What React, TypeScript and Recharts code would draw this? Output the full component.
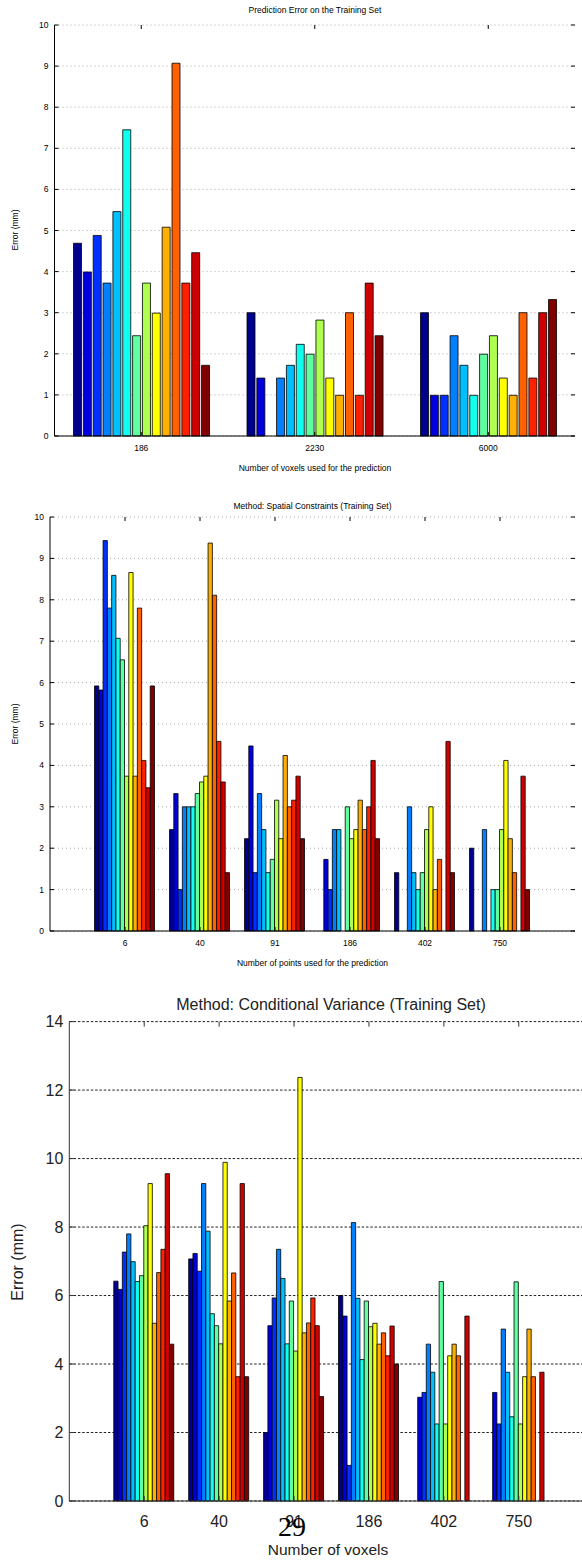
import React from "react";
import { BarChart, Bar, XAxis, YAxis, CartesianGrid } from "recharts";

// jet colormap sampled at 14 steps (one colour per bar in a group)
const jetColors = [
  "#00008F", "#0000DF", "#0030FF", "#0080FF", "#00BFFF", "#10FFEF", "#60FFA0",
  "#AFFF50", "#FFFF00", "#FFAF00", "#FF6000", "#FF2000", "#CF0000", "#800000",
];

// Prediction error on the training set (mm), one array per voxel count
const voxelCats = ["186", "2230", "6000"];
const err186 = [4.69, 3.99, 4.88, 3.72, 5.46, 7.45, 2.44, 3.72, 2.99, 5.08, 9.07, 3.72, 4.46, 1.72];
const err2230 = [3.0, 1.41, 0, 1.41, 1.72, 2.23, 1.99, 2.82, 1.41, 0.99, 3.0, 0.99, 3.72, 2.44];
const err6000 = [3.0, 0.99, 0.99, 2.44, 1.72, 0.99, 1.99, 2.44, 1.41, 0.99, 3.0, 1.41, 3.0, 3.32];

// Spatial constraints, one array per number of points
const pointCats = ["6", "40", "91", "186", "402", "750"];
const sc6 = [5.92, 5.82, 9.43, 7.8, 8.59, 7.07, 6.55, 3.74, 8.66, 3.74, 7.8, 4.12, 3.46, 5.92];
const sc40 = [2.45, 3.32, 1.0, 3.0, 3.0, 3.0, 3.32, 3.6, 3.74, 9.37, 8.11, 4.58, 3.6, 1.41];
const sc91 = [2.23, 4.47, 1.41, 3.32, 2.45, 1.41, 1.73, 3.16, 2.23, 4.24, 3.0, 3.16, 3.74, 2.23];
const sc186 = [0, 1.73, 1.0, 2.45, 2.45, 0, 3.0, 2.23, 2.45, 3.16, 2.45, 3.0, 4.12, 2.23];
const sc402 = [1.41, 0, 0, 3.0, 1.41, 1.0, 1.41, 2.45, 3.0, 1.0, 1.73, 0, 4.58, 1.41];
const sc750 = [2.0, 0, 0, 2.45, 0, 1.0, 1.0, 2.45, 4.12, 2.23, 1.41, 0, 3.74, 1.0];

// Conditional variance, one array per voxel count
const cvCats = ["6", "40", "91", "186", "402", "750"];
const cv6 = [6.42, 6.18, 7.27, 7.8, 6.99, 6.41, 6.58, 8.04, 9.27, 5.19, 6.67, 7.35, 9.56, 4.58];
const cv40 = [7.07, 7.23, 6.71, 9.27, 7.88, 5.47, 5.12, 4.59, 9.89, 5.84, 6.66, 3.63, 9.27, 3.63];
const cv91 = [2.0, 5.12, 5.93, 7.35, 6.5, 4.59, 5.84, 4.38, 12.37, 4.91, 5.2, 5.93, 5.12, 3.05];
const cv186 = [6.0, 5.4, 1.04, 8.13, 5.92, 4.13, 5.84, 5.09, 5.19, 4.58, 4.91, 4.24, 5.11, 4.0];
const cv402 = [0, 3.03, 3.17, 4.58, 3.76, 2.25, 6.41, 2.25, 4.24, 4.58, 4.24, 0, 5.4, 0];
const cv750 = [0, 3.17, 2.25, 5.02, 3.76, 2.46, 6.4, 2.25, 3.63, 5.02, 3.63, 0, 3.76, 0];

const ticks10 = [0, 1, 2, 3, 4, 5, 6, 7, 8, 9, 10];
const ticks14 = [0, 2, 4, 6, 8, 10, 12, 14];

const FONT = "'Liberation Sans', Arial, Helvetica, sans-serif";

function toRows(cats: string[], groups: number[][]) {
  return cats.map((cat, i) => {
    const row: Record<string, string | number> = { cat };
    groups[i].forEach((v, k) => {
      row["s" + k] = v;
    });
    return row;
  });
}

interface Box {
  left: number;
  top: number;
  right: number;
  bottom: number;
}

interface PanelProps {
  top: number;
  width: number;
  height: number;
  box: Box;
  data: Record<string, string | number>[];
  yMax: number;
  yTicks: number[];
  fontSize: number;
  textColor: string;
  xPad: number;
  barSize: number;
  barGap: number;
  axisColor: string;
  gridColor: string;
  gridDash: string;
  labelGap: number;
  xLabelDy: number;
  tickLen: number;
}

function Panel(p: PanelProps) {
  const { box } = p;
  const xAxisH = 30;
  const yAxisW = 40;
  const margin = {
    top: box.top,
    left: box.left - yAxisW,
    right: p.width - box.right,
    bottom: p.height - box.bottom - xAxisH,
  };

  const xTick = (t: any) => (
    <g>
      <line x1={t.x} x2={t.x} y1={box.bottom} y2={box.bottom - p.tickLen} stroke={p.axisColor} />
      <line x1={t.x} x2={t.x} y1={box.top} y2={box.top + p.tickLen} stroke={p.axisColor} />
      <text
        x={t.x}
        y={box.bottom + p.xLabelDy}
        textAnchor="middle"
        dominantBaseline="central"
        fontSize={p.fontSize}
        fontFamily={FONT}
        fill={p.textColor}
      >
        {t.payload.value}
      </text>
    </g>
  );

  const yTick = (t: any) => (
    <g>
      <line x1={box.left} x2={box.left + p.tickLen} y1={t.y} y2={t.y} stroke={p.axisColor} />
      <line x1={box.right - p.tickLen} x2={box.right} y1={t.y} y2={t.y} stroke={p.axisColor} />
      <text
        x={box.left - p.labelGap}
        y={t.y}
        textAnchor="end"
        dominantBaseline="central"
        fontSize={p.fontSize}
        fontFamily={FONT}
        fill={p.textColor}
      >
        {t.payload.value}
      </text>
    </g>
  );

  return (
    <div style={{ position: "absolute", left: 0, top: p.top }}>
      <BarChart
        width={p.width}
        height={p.height}
        data={p.data}
        margin={margin}
        barSize={p.barSize}
        barGap={p.barGap}
      >
        <CartesianGrid
          vertical={false}
          stroke={p.gridColor}
          strokeDasharray={p.gridDash}
        />
        {jetColors.map((c, k) => (
          <Bar
            key={k}
            dataKey={"s" + k}
            fill={c}
            stroke="#000"
            strokeWidth={0.8}
            isAnimationActive={false}
          />
        ))}
        <XAxis
          dataKey="cat"
          height={xAxisH}
          padding={{ left: p.xPad, right: p.xPad }}
          tickLine={false}
          axisLine={{ stroke: p.axisColor }}
          tick={xTick}
          interval={0}
        />
        <XAxis
          xAxisId="top"
          orientation="top"
          dataKey="cat"
          height={0}
          tick={false}
          tickLine={false}
          axisLine={{ stroke: p.axisColor }}
        />
        <YAxis
          type="number"
          domain={[0, p.yMax]}
          ticks={p.yTicks}
          interval={0}
          width={yAxisW}
          tickLine={false}
          axisLine={{ stroke: p.axisColor }}
          tick={yTick}
        />
        <YAxis
          yAxisId="right"
          orientation="right"
          type="number"
          domain={[0, p.yMax]}
          width={0}
          tick={false}
          tickLine={false}
          axisLine={{ stroke: p.axisColor }}
        />
      </BarChart>
    </div>
  );
}

function Text({
  x,
  y,
  size,
  children,
  rotate,
  family,
  color,
}: {
  x: number;
  y: number;
  size: number;
  children: React.ReactNode;
  rotate?: boolean;
  family?: string;
  color?: string;
}) {
  return (
    <div
      style={{
        position: "absolute",
        left: x,
        top: y,
        transform: `translate(-50%, -50%)${rotate ? " rotate(-90deg)" : ""}`,
        fontSize: size,
        fontFamily: family || FONT,
        whiteSpace: "nowrap",
        lineHeight: 1,
        color: color || "#000",
      }}
    >
      {children}
    </div>
  );
}

export default function App() {
  const rows1 = toRows(voxelCats, [err186, err2230, err6000]);
  const rows2 = toRows(pointCats, [sc6, sc40, sc91, sc186, sc402, sc750]);
  const rows3 = toRows(cvCats, [cv6, cv40, cv91, cv186, cv402, cv750]);

  return (
    <div
      style={{
        position: "absolute",
        left: 0,
        top: 0,
        width: 582,
        height: 1560,
        overflow: "hidden",
        background: "#fff",
      }}
    >
      {/* Training set error */}
      <Text x={315} y={10} size={8.5}>Prediction Error on the Training Set</Text>
      <Panel
        top={0}
        width={582}
        height={480}
        box={{ left: 54.5, top: 25, right: 575, bottom: 436 }}
        data={rows1}
        yMax={10}
        yTicks={ticks10}
        fontSize={8.5}
        textColor="#000"
        xPad={0}
        barSize={8}
        barGap={1.85}
        axisColor="#000"
        gridColor="#aaa"
        gridDash="1 3"
        labelGap={6}
        xLabelDy={12}
        tickLen={4}
      />
      <Text x={315} y={468} size={8.5}>Number of voxels used for the prediction</Text>
      <Text x={15} y={230} size={8.5} rotate>Error (mm)</Text>

      {/* Spatial constraints */}
      <Text x={312.5} y={506} size={8.5}>Method: Spatial Constraints (Training Set)</Text>
      <Panel
        top={490}
        width={582}
        height={470}
        box={{ left: 50, top: 27, right: 575, bottom: 441 }}
        data={rows2}
        yMax={10}
        yTicks={ticks10}
        fontSize={8.5}
        textColor="#000"
        xPad={37.5}
        barSize={4.286}
        barGap={0}
        axisColor="#000"
        gridColor="#aaa"
        gridDash="1 3"
        labelGap={6}
        xLabelDy={12}
        tickLen={4}
      />
      <Text x={312.5} y={963} size={8.5}>Number of points used for the prediction</Text>
      <Text x={15} y={724} size={8.5} rotate>Error (mm)</Text>

      {/* Conditional variance */}
      <Text x={331} y={1005} size={16} color="#222">Method: Conditional Variance (Training Set)</Text>
      <Panel
        top={990}
        width={620}
        height={570}
        box={{ left: 69.3, top: 31.6, right: 593.7, bottom: 511 }}
        data={rows3}
        yMax={14}
        yTicks={ticks14}
        fontSize={16}
        textColor="#222"
        xPad={37.46}
        barSize={4.286}
        barGap={0}
        axisColor="#333"
        gridColor="#222"
        gridDash="2.5 1.8"
        labelGap={6}
        xLabelDy={20}
        tickLen={5}
      />
      <Text x={328} y={1550} size={15.5} color="#222">Number of voxels</Text>
      <Text x={18} y={1262} size={16} rotate color="#222">Error (mm)</Text>
      <Text x={292} y={1527} size={28} family="'Liberation Serif', 'Times New Roman', serif">29</Text>
    </div>
  );
}
